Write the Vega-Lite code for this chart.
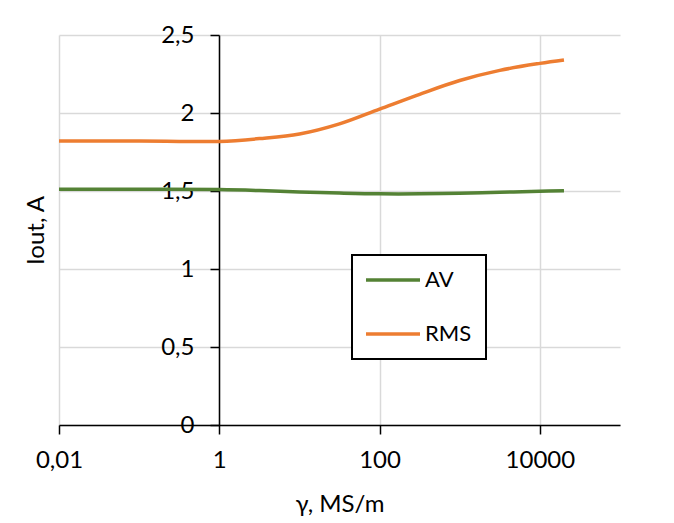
{
  "$schema": "https://vega.github.io/schema/vega-lite/v6.json",
  "width": 561,
  "height": 390,
  "autosize": {"type": "none"},
  "padding": {"left": 59, "top": 35, "right": 54, "bottom": 98},
  "background": "white",
  "config": {"view": {"stroke": null}, "font": "Lato"},
  "data": {
    "values": [
      {"s": "AV", "g": 0.01, "I": 1.511},
      {"s": "AV", "g": 0.1, "I": 1.511},
      {"s": "AV", "g": 1, "I": 1.509},
      {"s": "AV", "g": 3.16, "I": 1.503},
      {"s": "AV", "g": 10, "I": 1.494},
      {"s": "AV", "g": 31.6, "I": 1.487},
      {"s": "AV", "g": 100, "I": 1.482},
      {"s": "AV", "g": 316, "I": 1.482},
      {"s": "AV", "g": 1000, "I": 1.486},
      {"s": "AV", "g": 3162, "I": 1.492},
      {"s": "AV", "g": 10000, "I": 1.498},
      {"s": "AV", "g": 20000, "I": 1.502},
      {"s": "RMS", "g": 0.01, "I": 1.82},
      {"s": "RMS", "g": 0.1, "I": 1.82},
      {"s": "RMS", "g": 0.316, "I": 1.818},
      {"s": "RMS", "g": 1, "I": 1.818},
      {"s": "RMS", "g": 3.16, "I": 1.836},
      {"s": "RMS", "g": 10, "I": 1.865},
      {"s": "RMS", "g": 31.6, "I": 1.93},
      {"s": "RMS", "g": 100, "I": 2.025},
      {"s": "RMS", "g": 316, "I": 2.12},
      {"s": "RMS", "g": 1000, "I": 2.208},
      {"s": "RMS", "g": 3162, "I": 2.273},
      {"s": "RMS", "g": 10000, "I": 2.318},
      {"s": "RMS", "g": 20000, "I": 2.34}
    ]
  },
  "mark": {"type": "line", "interpolate": "catmull-rom", "strokeWidth": 3.5},
  "encoding": {
    "x": {
      "field": "g",
      "type": "quantitative",
      "scale": {"type": "log", "domain": [0.01, 100000], "nice": false},
      "axis": {
        "values": [0.01, 1, 100, 10000],
        "format": "~g",
        "labelExpr": "replace(datum.label, '.', ',')",
        "title": "γ, MS/m",
        "grid": true,
        "gridColor": "#d9d9d9",
        "gridWidth": 1.5,
        "domainColor": "black",
        "domainWidth": 1.5,
        "tickColor": "black",
        "tickSize": 9,
        "tickWidth": 1.5,
        "labelFontSize": 24,
        "labelColor": "black",
        "labelPadding": 14,
        "labelFlush": false,
        "titleFontSize": 24,
        "titleFontWeight": "normal",
        "titleColor": "black",
        "titlePadding": 20
      }
    },
    "y": {
      "field": "I",
      "type": "quantitative",
      "scale": {"domain": [0, 2.5], "nice": false},
      "axis": {
        "values": [0, 0.5, 1, 1.5, 2, 2.5],
        "format": "~g",
        "labelExpr": "replace(datum.label, '.', ',')",
        "offset": -160,
        "title": "Iout, A",
        "titleX": -176,
        "titleBaseline": "alphabetic",
        "grid": true,
        "gridColor": "#d9d9d9",
        "gridWidth": 1.5,
        "domainColor": "black",
        "domainWidth": 1.5,
        "tickColor": "black",
        "tickSize": 9,
        "tickWidth": 1.5,
        "labelFontSize": 24,
        "labelColor": "black",
        "labelPadding": 16,
        "labelFlush": false,
        "titleFontSize": 24,
        "titleFontWeight": "normal",
        "titleColor": "black"
      }
    },
    "color": {
      "field": "s",
      "type": "nominal",
      "scale": {"domain": ["AV", "RMS"], "range": ["#548235", "#ED7D31"]},
      "legend": {
        "title": null,
        "orient": "none",
        "legendX": 293,
        "legendY": 220,
        "strokeColor": "black",
        "fillColor": "white",
        "padding": 14,
        "symbolType": "M-3,0H3",
        "symbolSize": 324,
        "symbolStrokeWidth": 3.5,
        "symbolOffset": 16,
        "labelFontSize": 22,
        "labelColor": "black",
        "labelOffset": 21,
        "rowPadding": 32,
        "encode": {"legend": {"update": {"strokeWidth": {"value": 2}}}}
      }
    }
  }
}
